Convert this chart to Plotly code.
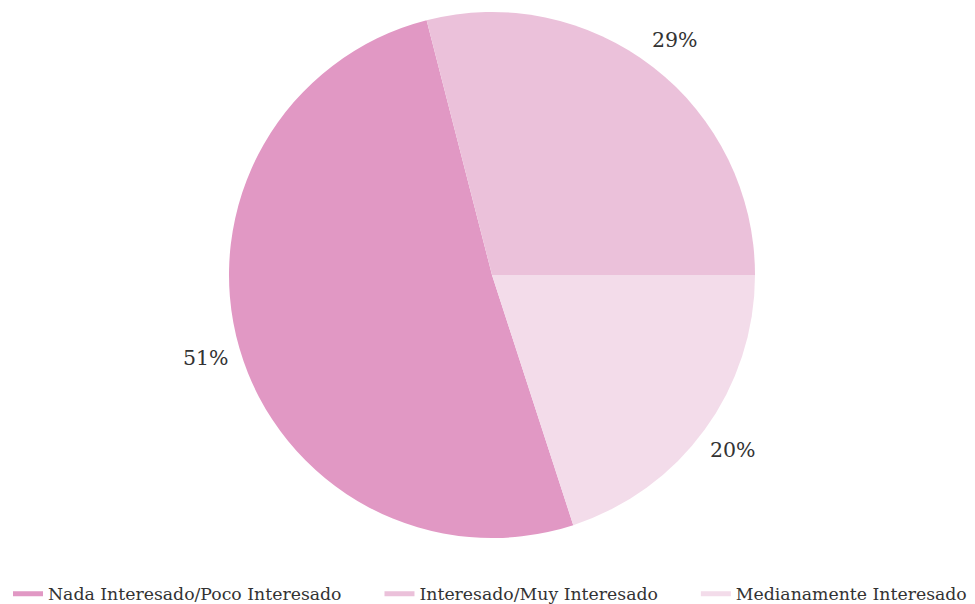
import math
import plotly.graph_objects as go

categories = ["Nada Interesado/Poco Interesado", "Interesado/Muy Interesado", "Medianamente Interesado"]
values = [51, 29, 20]
colors = ["#e198c4", "#ebc1da", "#f3dcea"]

W, H = 975, 604
OFF = 8  # page body margin
cx, cy, r = 492 - OFF, 275 - OFF, 263
rotation = 162
label_r = r + 35

fig = go.Figure()
fig.add_trace(go.Pie(
    labels=categories,
    values=values,
    sort=False,
    direction="clockwise",
    rotation=rotation,
    marker=dict(colors=colors, line=dict(width=0)),
    textinfo="none",
    showlegend=False,
    hoverinfo="label+percent",
    domain=dict(x=[(cx - r) / W, (cx + r) / W], y=[(H - cy - r) / H, (H - cy + r) / H]),
))

total = sum(values)
start = rotation
for v in values:
    span = 360 * v / total
    mid = math.radians(start + span / 2)
    px = cx + label_r * math.sin(mid)
    py = cy - label_r * math.cos(mid)
    fig.add_annotation(
        x=px / W, y=1 - py / H, xref="paper", yref="paper",
        text=f"{round(100 * v / total)}%", showarrow=False,
        xanchor="center", yanchor="middle",
        font=dict(family="DejaVu Serif", size=20.5, color="#333333"),
    )
    start += span

pads = ["\u00a0" * 6, "\u00a0" * 6, ""]
for name, col, pad in zip(categories, colors, pads):
    fig.add_trace(go.Scatter(
        x=[None], y=[None], mode="lines", name=name + pad,
        line=dict(color=col, width=5), showlegend=True,
    ))

fig.update_layout(
    width=W, height=H,
    margin=dict(l=0, r=0, t=0, b=0),
    paper_bgcolor="white", plot_bgcolor="white",
    xaxis=dict(visible=False), yaxis=dict(visible=False),
    font=dict(family="DejaVu Serif", size=17, color="#333333"),
    legend=dict(orientation="h", x=0, xanchor="left", y=0.0, yanchor="bottom",
                font=dict(family="DejaVu Serif", size=17.3, color="#333333"),
                itemwidth=30, tracegroupgap=0),
)

fig.write_html("out.html")
